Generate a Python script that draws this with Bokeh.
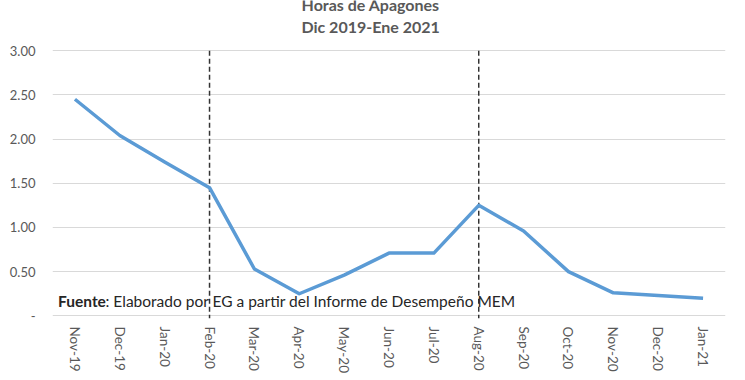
import math
from bokeh.plotting import figure
from bokeh.models import FixedTicker, Range1d
from bokeh.core.properties import value
from bokeh.embed import file_html
from bokeh.resources import INLINE

months = ["Nov-19", "Dec-19", "Jan-20", "Feb-20", "Mar-20", "Apr-20", "May-20",
          "Jun-20", "Jul-20", "Aug-20", "Sep-20", "Oct-20", "Nov-20", "Dec-20", "Jan-21"]
hours = [2.45, 2.04, 1.74, 1.45, 0.53, 0.25, 0.46, 0.71, 0.71, 1.25, 0.96, 0.50, 0.26, 0.23, 0.20]
y_ticks = [0, 0.5, 1.0, 1.5, 2.0, 2.5, 3.0]
y_labels = ["-", "0.50", "1.00", "1.50", "2.00", "2.50", "3.00"]
marker_months = ["Feb-20", "Aug-20"]
title_lines = ["Horas de Apagones", "Dic 2019-Ene 2021"]
source_bold = "Fuente"
source_rest = ": Elaborado por EG a partir del Informe de Desempeño MEM"

FONT = "Lato"
xs = list(range(len(months)))

p = figure(width=737, height=372, output_backend="svg", toolbar_location=None,
           x_range=Range1d(-0.5, len(months) - 0.5), y_range=Range1d(-0.03, 3.567),
           min_border_left=52, min_border_right=20, min_border_top=0, min_border_bottom=5)
p.frame_width = 673
p.frame_height = 318
p.outline_line_color = None
p.background_fill_color = "white"

# axes
p.xaxis.ticker = FixedTicker(ticks=xs)
p.xaxis.major_label_overrides = {i: m for i, m in enumerate(months)}
p.xaxis.major_label_orientation = -math.pi / 2
p.xaxis.axis_line_color = None
p.xaxis.major_tick_line_color = None
p.xaxis.minor_tick_line_color = None
p.xaxis.major_label_standoff = 2
p.xaxis.major_label_text_font = FONT
p.xaxis.major_label_text_font_size = "13.5px"
p.xaxis.major_label_text_color = "#595959"

p.yaxis.ticker = FixedTicker(ticks=y_ticks)
p.yaxis.major_label_overrides = {t: l for t, l in zip(y_ticks, y_labels)}
p.yaxis.axis_line_color = None
p.yaxis.major_tick_line_color = None
p.yaxis.minor_tick_line_color = None
p.yaxis.major_label_standoff = 11
p.yaxis.major_label_text_font = FONT
p.yaxis.major_label_text_font_size = "13px"
p.yaxis.major_label_text_color = "#595959"

p.xgrid.grid_line_color = None
p.ygrid.ticker = FixedTicker(ticks=y_ticks)
p.ygrid.grid_line_color = "#d9d9d9"
p.ygrid.grid_line_width = 1

# dashed markers
mx = [months.index(m) for m in marker_months]
p.segment(x0=mx, x1=mx, y0=[3.0] * len(mx), y1=[-0.03] * len(mx),
          line_color="#333333", line_width=1.5, line_dash="5 3")

# data line
p.line(xs, hours, line_color="#5B9BD5", line_width=3.5, line_join="round")

# title (top line partly cut like the reference)
p.text(x=[6.59, 6.59], y=[3.52, 3.27], text=title_lines,
       text_font=value(FONT), text_font_size="16px", text_font_style="bold",
       text_color="#595959", text_align="center", text_baseline="middle")

# source note
p.text(x=[-0.377], y=[0.173], text=[source_bold], text_font=value(FONT),
       text_font_size="15.5px", text_font_style="bold", text_color="#262626",
       text_align="left", text_baseline="middle")
p.text(x=[-0.377], y=[0.173], text=[source_rest], x_offset=47.5, text_font=value(FONT),
       text_font_size="15.5px", text_color="#262626",
       text_align="left", text_baseline="middle")

open("out.html", "w").write(file_html(p, INLINE))
